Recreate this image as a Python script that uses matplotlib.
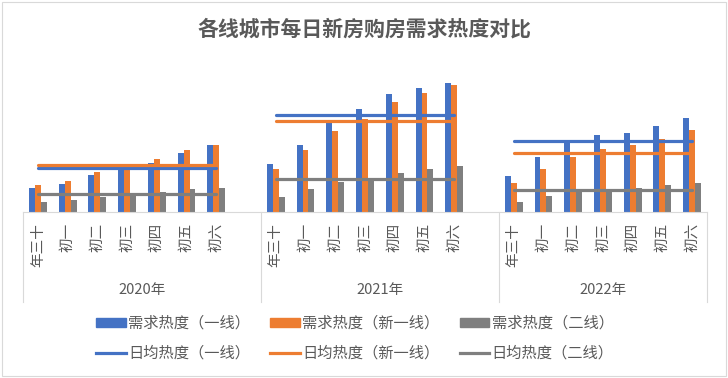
import matplotlib.pyplot as plt
from matplotlib.patches import Rectangle
from matplotlib.lines import Line2D

plt.rcParams['font.family'] = ['Noto Sans CJK SC', 'DejaVu Sans']

# --- DATA (arbitrary heat units) ---
years = ["2020年", "2021年", "2022年"]
days = ["年三十", "初一", "初二", "初三", "初四", "初五", "初六"]

tier1 = [
    [24, 28, 37, 44, 49, 59, 67],
    [47.7, 66.7, 89, 102.7, 117.7, 123.7, 128.7],
    [35.7, 54.7, 70, 76.7, 78.7, 85.7, 93.7],
]
new_tier1 = [
    [27, 31, 40, 43, 53, 62, 66.4],
    [42.7, 61.7, 80.7, 92.7, 109.7, 118.7, 126.7],
    [28.7, 42.7, 54.7, 62.7, 66.7, 72.7, 81.7],
]
tier2 = [
    [10, 12, 15, 16, 20, 23, 24],
    [14.7, 22.7, 29.7, 31.7, 38.7, 42.7, 45.7],
    [9.7, 15.7, 21.7, 22.4, 23.7, 26.7, 28.7],
]
avg_tier1 = [43.4, 96.7, 70.4]
avg_new_tier1 = [46.7, 90.7, 58.7]
avg_tier2 = [17.4, 32.7, 21.7]

series_names = ["需求热度（一线）", "需求热度（新一线）", "需求热度（二线）"]
avg_names = ["日均热度（一线）", "日均热度（新一线）", "日均热度（二线）"]
colors = ["#4472C4", "#ED7D31", "#7F7F7F"]
text_color = "#595959"
grid_color = "#D9D9D9"

# --- LAYOUT ---
W, H = 728, 378
fig = plt.figure(figsize=(W / 100, H / 100), dpi=100)
ax_left, ax_right = 23, 707
base_y, top_y = 211.7, 70
ax = fig.add_axes([ax_left / W, (H - base_y) / H, (ax_right - ax_left) / W, (base_y - top_y) / H])

# slots: 8 per year for the first two years (one blank), 7 for the last
group_start = [0, 8, 16]
n_slots = 23
bw = 0.2

tick_pos, tick_lab = [], []
for g in range(3):
    xs = [group_start[g] + k + 0.5 for k in range(len(days))]
    for j, vals in enumerate([tier1[g], new_tier1[g], tier2[g]]):
        ax.bar([x + (j - 1) * bw for x in xs], vals, width=bw, color=colors[j], zorder=2)
    for j, a in enumerate([avg_tier1[g], avg_new_tier1[g], avg_tier2[g]]):
        ax.plot([xs[0], xs[-1]], [a, a], color=colors[j], lw=2.3, zorder=3, solid_capstyle='round')
    tick_pos += xs
    tick_lab += days

ax.set_xlim(0, n_slots)
ax.set_ylim(0, base_y - top_y)
ax.set_xticks(tick_pos)
ax.set_xticklabels(tick_lab, rotation=90, fontsize=10.5, color=text_color)
ax.tick_params(axis='x', length=0, pad=8)
ax.set_yticks([])
for s in ["top", "left", "right"]:
    ax.spines[s].set_visible(False)
ax.spines["bottom"].set_color(grid_color)
ax.spines["bottom"].set_linewidth(0.8)

# group separators and year labels
sep_low = -(301.7 - base_y) / (base_y - top_y)
for x in [0, 8, 16, 23]:
    ax.add_line(Line2D([x, x], [0, sep_low], transform=ax.get_xaxis_transform(),
                       color=grid_color, lw=0.8, clip_on=False))
year_centers = [4, 12, 19.5]
year_y = -(290 - base_y) / (base_y - top_y)
for c, yl in zip(year_centers, years):
    ax.text(c, year_y, yl, transform=ax.get_xaxis_transform(), ha='center', va='center',
            fontsize=10.5, color=text_color)

# title
fig.text(0.5, 1 - 29 / H, "各线城市每日新房购房需求热度对比", ha='center', va='center',
         fontsize=15, color=text_color, fontweight='bold')

# legend
handles, labels = [], []
for j in range(3):
    handles.append(Rectangle((0, 0), 1, 1, color=colors[j]))
    labels.append(series_names[j])
    handles.append(Line2D([0], [0], color=colors[j], lw=2.3))
    labels.append(avg_names[j])
leg = fig.legend(handles, labels, ncol=3, loc='center', bbox_to_anchor=(355 / W, 1 - 338.5 / H),
                 frameon=False, fontsize=11, handlelength=1.95, handleheight=0.55,
                 handletextpad=0.15, columnspacing=1.3, labelspacing=0.85)
for t in leg.get_texts():
    t.set_color(text_color)

# chart border
fig.patches.append(Rectangle((2 / W, 2 / H), 1 - 4 / W, 1 - 4 / H, transform=fig.transFigure,
                             fill=False, edgecolor=grid_color, lw=0.8))

fig.savefig("out.png", dpi=100)
